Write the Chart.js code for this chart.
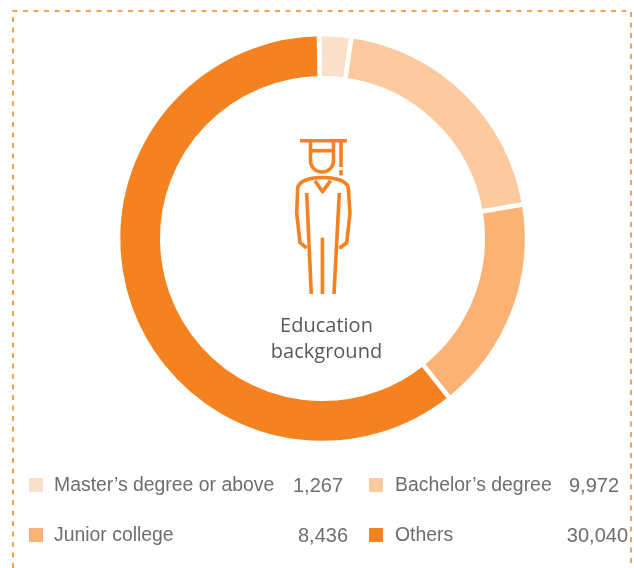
<!DOCTYPE html>
<html>
<head>
<meta charset="utf-8">
<title>Education background</title>
<script src="https://cdn.jsdelivr.net/npm/chart.js@4"></script>
<style>
  html, body { margin: 0; padding: 0; background: #fff; overflow: hidden; }
  #wrap { position: relative; width: 634px; height: 568px; }
</style>
</head>
<body>
<div id="wrap"><canvas id="chartCanvas" width="634" height="568"></canvas></div>
<script>
(function() {

  var categories = ['Master\u2019s degree or above', 'Bachelor\u2019s degree', 'Junior college', 'Others'];
  var counts = [1267, 9972, 8436, 30040];
  var countLabels = ['1,267', '9,972', '8,436', '30,040'];
  var sliceColors = ['#FDE0CC', '#FDC99E', '#FBB275', '#F58220'];
  var centerLines = ['Education', 'background'];

  var ORANGE = '#F58220';
  var TEXT_GREY = '#6D6E71';

  function polyline(ctx, pts) {
    ctx.beginPath();
    ctx.moveTo(pts[0][0], pts[0][1]);
    for (var i = 1; i < pts.length; i++) ctx.lineTo(pts[i][0], pts[i][1]);
    ctx.stroke();
  }

  function drawFrame(ctx) {
    ctx.save();
    ctx.strokeStyle = ORANGE;
    ctx.lineWidth = 1.5;
    ctx.setLineDash([5, 5.5]);
    polyline(ctx, [[13, 568], [13, 11], [631, 11], [631, 568]]);
    ctx.restore();
  }

  // graduate figure in the middle of the ring
  function drawFigure(ctx) {
    ctx.save();
    ctx.strokeStyle = ORANGE;
    ctx.fillStyle = ORANGE;
    ctx.lineWidth = 3.6;
    ctx.lineJoin = 'round';
    polyline(ctx, [[300, 140.7], [347, 140.7]]);
    polyline(ctx, [[310, 150.7], [334, 150.7]]);
    polyline(ctx, [[341, 140], [341, 167]]);
    ctx.fillRect(339.2, 170, 3.6, 5.5);

    ctx.beginPath();
    ctx.moveTo(310.5, 141);
    ctx.lineTo(310.5, 160);
    ctx.bezierCurveTo(310.5, 176, 333.5, 176, 333.5, 160);
    ctx.lineTo(333.5, 141);
    ctx.stroke();

    ctx.beginPath();
    ctx.moveTo(306.7, 248);
    ctx.lineTo(300, 242.7);
    ctx.lineTo(296.7, 213);
    ctx.lineTo(297.7, 188);
    ctx.bezierCurveTo(299, 180, 312, 177.5, 322.7, 177.5);
    ctx.bezierCurveTo(333, 177.5, 347, 180, 348.3, 188);
    ctx.lineTo(350, 213);
    ctx.lineTo(346.7, 242.7);
    ctx.lineTo(339.3, 248.3);
    ctx.stroke();

    polyline(ctx, [[315, 180.7], [322.5, 191.7], [330.7, 180.7]]);
    polyline(ctx, [[306.7, 193], [311.3, 294]]);
    polyline(ctx, [[339.3, 193], [334, 294]]);
    polyline(ctx, [[322.4, 237.7], [322.4, 294]]);
    ctx.restore();
  }

  function drawCenterText(ctx) {
    ctx.save();
    ctx.fillStyle = '#58595B';
    ctx.font = '20px "Open Sans"';
    ctx.textAlign = 'center';
    ctx.textBaseline = 'alphabetic';
    ctx.fillText(centerLines[0], 326.5, 332);
    ctx.fillText(centerLines[1], 326.5, 358);
    ctx.restore();
  }

  function drawLegend(ctx) {
    var swatchX = [29, 369, 29, 369];
    var labelX = [54, 395, 54, 395];
    var numberRight = [343, 619, 348, 628];
    var rowY = [485, 485, 535, 535];
    ctx.save();
    ctx.textBaseline = 'middle';
    categories.forEach(function(name, i) {
      ctx.fillStyle = sliceColors[i];
      ctx.fillRect(swatchX[i], rowY[i] - 7, 14, 14);
      ctx.fillStyle = TEXT_GREY;
      ctx.textAlign = 'left';
      ctx.font = '19.4px "Liberation Sans"';
      ctx.fillText(name, labelX[i], rowY[i] + 1);
      ctx.textAlign = 'right';
      ctx.font = '20px "Liberation Sans"';
      ctx.fillText(countLabels[i], numberRight[i], rowY[i] + 1);
    });
    ctx.restore();
  }

  var decorations = {
    id: 'decorations',
    afterDraw: function(chart) {
      var ctx = chart.ctx;
      drawFrame(ctx);
      drawFigure(ctx);
      drawCenterText(ctx);
      drawLegend(ctx);
    }
  };

  new Chart(document.getElementById('chartCanvas'), {
    type: 'doughnut',
    data: {
      labels: categories,
      datasets: [{
        data: counts,
        backgroundColor: sliceColors,
        borderColor: '#FFFFFF',
        borderWidth: 4.5,
        hoverOffset: 0
      }]
    },
    options: {
      responsive: false,
      animation: false,
      radius: 204.5,
      cutout: 158.5,
      rotation: -1,
      layout: { padding: { left: 118, right: 107, top: 34, bottom: 125 } },
      plugins: {
        legend: { display: false },
        tooltip: { enabled: false }
      }
    },
    plugins: [decorations]
  });

})();
</script>
</body>
</html>
